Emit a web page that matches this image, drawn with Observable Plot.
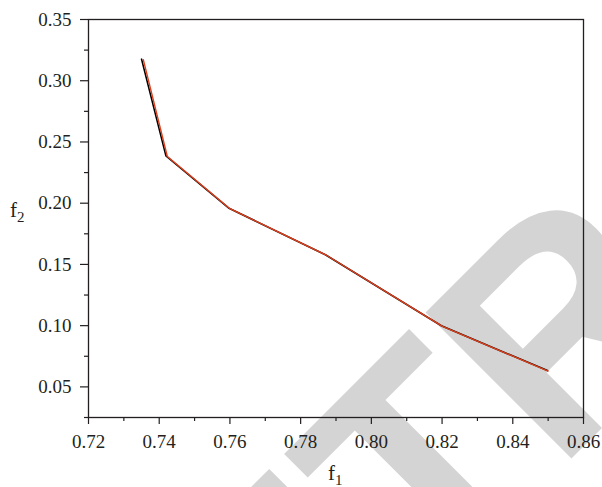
<!DOCTYPE html>
<html>
<head>
<meta charset="utf-8">
<script src="https://cdn.jsdelivr.net/npm/d3@7"></script>
<script src="https://cdn.jsdelivr.net/npm/@observablehq/plot@0.6"></script>
<style>
  html, body { margin: 0; padding: 0; background: white; }
</style>
</head>
<body>
<div id="chart"></div>
<script>
// Data
const f1Black = [0.7350, 0.7419, 0.7596, 0.7870, 0.8198, 0.8498];
const f2Black = [0.3176, 0.2386, 0.1961, 0.1579, 0.0999, 0.0633];
const f1Red   = [0.7355, 0.7423, 0.7600, 0.7874, 0.8201, 0.8500];
const f2Red   = [0.3172, 0.2381, 0.1955, 0.1573, 0.0994, 0.0629];

const xTicks = [0.72, 0.74, 0.76, 0.78, 0.80, 0.82, 0.84, 0.86];
const xMinor = [0.73, 0.75, 0.77, 0.79, 0.81, 0.83, 0.85];
const yTicks = [0.05, 0.10, 0.15, 0.20, 0.25, 0.30, 0.35];
const yMinor = [0.025, 0.075, 0.125, 0.175, 0.225, 0.275, 0.325];

const blackData = f1Black.map((x, i) => ({x, y: f2Black[i]}));
const redData = f1Red.map((x, i) => ({x, y: f2Red[i]}));

const ink = "#231f20";
const serif = "'Liberation Serif', 'Times New Roman', Times, serif";

const chart = Plot.plot({
  width: 602,
  height: 487,
  marginLeft: 88,
  marginRight: 19,
  marginTop: 19,
  marginBottom: 70,
  style: {fontFamily: serif, fontSize: "19px", background: "white", color: ink},
  x: {domain: [0.72, 0.86], label: null},
  y: {domain: [0.025, 0.35], label: null},
  marks: [
    Plot.axisX(xTicks, {tickSize: 7, tickPadding: 10, tickFormat: d3.format(".2f"), stroke: ink, strokeWidth: 1.2, fill: ink, label: null, fontFamily: serif}),
    Plot.axisX(xMinor, {tickSize: 4, text: null, stroke: ink, strokeWidth: 1.2, label: null}),
    Plot.axisY(yTicks, {tickSize: 8, tickPadding: 9, tickFormat: d3.format(".2f"), stroke: ink, strokeWidth: 1.2, fill: ink, label: null, fontFamily: serif}),
    Plot.axisY(yMinor, {tickSize: 4, text: null, stroke: ink, strokeWidth: 1.2, label: null}),
    Plot.frame({stroke: ink, strokeWidth: 1.3}),
    Plot.line(blackData, {x: "x", y: "y", stroke: "#000000", strokeWidth: 1.6}),
    Plot.line(redData, {x: "x", y: "y", stroke: "#e2401c", strokeWidth: 1.4})
  ]
});

document.getElementById("chart").appendChild(chart);

const svg = d3.select(chart);
// Watermark behind everything
svg.insert("text", ":first-child")
  .attr("transform", "translate(133,897) rotate(-45)")
  .attr("text-anchor", "start")
  .attr("font-family", "'Liberation Sans', Arial, sans-serif")
  .attr("font-weight", "bold")
  .attr("font-size", 300)
  .attr("fill", "#d4d4d4")
  .text("RETRACTED");

// Axis titles with subscripts
function axisTitle(x, y, sub) {
  const t = svg.append("text")
    .attr("x", x).attr("y", y)
    .attr("text-anchor", "start")
    .attr("font-family", serif)
    .attr("font-size", 21)
    .attr("fill", ink);
  t.append("tspan").text("f");
  t.append("tspan").attr("font-size", 15).attr("dy", 5).text(sub);
}
axisTitle(328, 480, "1");
axisTitle(10, 217, "2");
</script>
</body>
</html>
